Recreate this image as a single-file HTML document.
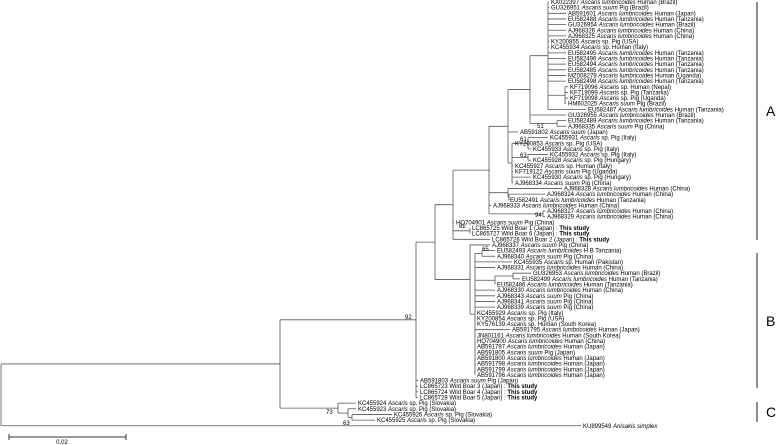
<!DOCTYPE html>
<html><head><meta charset="utf-8"><style>
html,body{margin:0;padding:0;background:#fff;}
svg{display:block;font-family:"Liberation Sans",sans-serif;}
</style></head><body>
<svg id="tree" width="784" height="445" viewBox="0 0 784 445" xmlns="http://www.w3.org/2000/svg">
<g id="branches"></g>
<g id="labels"></g>
<g id="boot"></g>
<g><line x1="757" y1="2" x2="757" y2="240" stroke="#222" stroke-width="1"/><text x="766" y="116" font-size="14">A</text></g>
<g><line x1="757" y1="253" x2="757" y2="388" stroke="#222" stroke-width="1"/><text x="766" y="326" font-size="14">B</text></g>
<g><line x1="757" y1="402" x2="757" y2="422" stroke="#222" stroke-width="1"/><text x="766" y="417" font-size="14">C</text></g>
<g><line x1="9" y1="437" x2="126" y2="437" stroke="#333" stroke-width="1"/><line x1="9" y1="434" x2="9" y2="440" stroke="#333"/><line x1="126" y1="434" x2="126" y2="440" stroke="#333"/><text x="62" y="444" font-size="6" text-anchor="middle">0.02</text></g>
</svg>
<script>
const L="Ascaris lumbricoides", S="Ascaris suum", A="Ascaris";
const accessions=["KX022397","GU326951","AB591601","EU582488","GU326954","AJ968326","AJ968325","KY200855","KC455934","EU582495","EU582496","EU582494","EU582485","MZ008279","EU582498","KF719096","KF719099","KF719098","HM602025","EU582487","GU326955","EU582489","AJ968335","AB591802","KC455931","KY200853","KC455933","KC455932","KC455928","KC455927","KF719122","KC455930","AJ968334","AJ968328","AJ968324","EU582491","AJ968333","AJ968327","AJ968329","HQ704901","LC865725","LC865727","LC865726","AJ968337","EU582493","AJ968340","KC455935","AJ968331","GU326953","EU582499","EU582486","AJ968330","AJ968343","AJ968341","AJ968339","KC455929","KY200854","KY576139","AB591795","JN801161","HQ704900","AB591797","AB591805","AB591800","AB591798","AB591799","AB591796","AB591803","LC865723","LC865724","LC865728","KC455924","KC455923","KC455926","KC455925","KU899549"];
const species=[L,S,L,L,L,L,L,A,A,L,L,L,L,L,L,A,A,A,S,L,L,L,S,S,A,A,A,A,A,A,S,A,S,L,L,L,L,L,L,S,"","","",S,L,S,A,L,L,L,L,L,S,S,S,A,A,A,L,L,L,L,S,L,L,L,L,S,"","","",A,A,A,A,"Anisakis simplex"];
const hosts=["Human (Brazil)","Pig (Brazil)","Human (Japan)","Human (Tanzania)","Human (Brazil)","Human (China)","Human (China)","sp. Pig  (USA)","sp. Human (Italy)","Human (Tanzania)","Human (Tanzania)","Human (Tanzania)","Human (Tanzania)","Human (Uganda)","Human (Tanzania)","sp. Human (Nepal)","sp. Pig (Tanzania)","sp. Pig (Uganda)","Pig (Brazil)","Human (Tanzania)","Human (Brazil)","Human (Tanzania)","Pig (China)","(Japan)","sp. Pig (Italy)","sp. Pig (USA)","sp. Pig (Italy)","sp. Pig (Italy)","sp. Pig (Hungary)","sp. Human (Italy)","Pig (Uganda)","sp. Pig (Hungary)","Pig (China)","Human (China)","Human (China)","Human (Tanzania)","Human (China)","Human (China)","Human (China)","Pig (China)","Wild Boar 1 (Japan) : ","Wild Boar 6 (Japan) : ","Wild Boar 2 (Japan) : ","Pig (China)","H B Tanzania)","Pig (China)","sp. Human (Pakistan)","Human (China)","Human (Brazil)","Human (Tanzania)","Human (Tanzania)","Human (China)","Pig (China)","Pig (China)","Pig (China)","sp. Pig (Italy)","sp. Pig (USA)","sp. Human (South Korea)","Human (Japan)","Human (South Korea)","Human (China)","Human (Japan)","Pig (Japan)","Human (Japan)","Human (Japan)","Human (Japan)","Human (Japan)","Pig (Japan)","Wild Boar 3 (Japan) : ","Wild Boar 4 (Japan) : ","Wild Boar 5 (Japan) : ","sp. Pig (Slovakia)","sp. Pig (Slovakia)","sp. Pig (Slovakia)","sp. Pig (Slovakia)",""];
const thisStudy=[41,42,43,69,70,71];
const tipX=[549,549,566,566,566,566,566,549,549,566,566,566,566,566,566,568,568,568,566,586,566,566,566,518,548,513,531,548,531,513,513,531,513,562,545,508,491,545,545,454,470,470,490,490,495,495,512,495,531,520,495,495,495,495,495,475,475,475,510,475,475,475,475,475,475,475,475,418,418,418,418,356,356,392,375,581];
const tree={x:1,c:[{x:280,c:[
  {x:416,c:[
    {x:435,c:[
      {x:453,c:[
        {x:489,c:[
          {x:508,c:[
            {x:530,c:[
              {x:548,c:[1,2,3,4,5,6,7,8,9,10,11,12,13,14,15,{x:565,c:[16,17,18,19]},20]},
              21,{x:557,c:[22,23]}]},
            24,{x:512,c:[{x:528,c:[25,26,27]},{x:528,c:[28,29]},30,31,32,33]}]},
          {x:508,c:[34,{x:509,c:[35,36]}]},37,{x:543,c:[38,39]}]},
        40,{x:470,c:[41,42]},43]},
      {x:470,c:[44,{x:475,c:[{x:482,c:[45,46]},47,48,{x:495,c:[{x:513,c:[49,50]},51]},52,53,54,55,56,57,58,59,60,61,62,63,64,65,66,67]}]}]},
    68,69,70,71]},
  {x:338,c:[72,{x:348,c:[73,{x:352,c:[74,75]}]}]}]},76]};
const bootVals=["51","61","63","94","82","65","92","73","63"];
const bootPos=[[537,128],[520,141],[520,157],[535,217],[459,228],[482,251],[405,319],[326,414],[343,425]];

const NS="http://www.w3.org/2000/svg";
const rowY=i=>2+(i-1)*5.65;
const gB=document.getElementById('branches'), gL=document.getElementById('labels'), gT=document.getElementById('boot');
function ln(x1,y1,x2,y2){const l=document.createElementNS(NS,'line');
l.setAttribute('x1',x1);l.setAttribute('y1',y1);l.setAttribute('x2',x2);l.setAttribute('y2',y2);
l.setAttribute('stroke','#555');l.setAttribute('stroke-width','0.8');


gB.appendChild(l);}
function layout(n,px){
  if(typeof n==='number'){const y=rowY(n);ln(px,y,tipX[n-1],y);return y;}
  const ys=n.c.map(ch=>layout(ch,n.x));
  const y0=ys[0],y1=ys[ys.length-1];
  ln(n.x,y0,n.x,y1);
  const y=(y0+y1)/2;
  if(px!==null) ln(px,y,n.x,y);
  return y;
}
layout(tree,null);
for(let i=1;i<=accessions.length;i++){
  const t=document.createElementNS(NS,'text');
  t.setAttribute('x',tipX[i-1]+2);t.setAttribute('y',rowY(i)+2);t.setAttribute('font-size','6');
  
  
  const a=document.createElementNS(NS,'tspan');a.textContent=accessions[i-1]+' ';t.appendChild(a);
  if(species[i-1]){const s=document.createElementNS(NS,'tspan');s.setAttribute('font-style','italic');s.textContent=species[i-1]+' ';t.appendChild(s);}
  const h=document.createElementNS(NS,'tspan');h.textContent=hosts[i-1];t.appendChild(h);
  if(thisStudy.includes(i)){const b=document.createElementNS(NS,'tspan');b.setAttribute('font-weight','bold');b.textContent='This study';t.appendChild(b);}
  gL.appendChild(t);
}
bootVals.forEach((v,k)=>{const t=document.createElementNS(NS,'text');
t.setAttribute('x',bootPos[k][0]);t.setAttribute('y',bootPos[k][1]);t.setAttribute('font-size','6');


t.textContent=v;gT.appendChild(t);});
</script>
</body></html>
